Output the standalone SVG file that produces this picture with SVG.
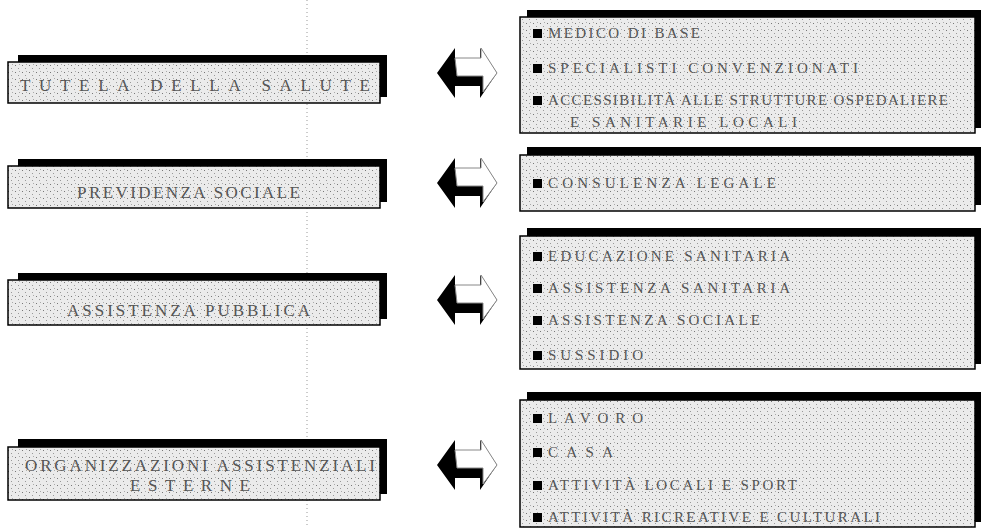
<svg xmlns="http://www.w3.org/2000/svg" width="981" height="528" viewBox="0 0 981 528">
<style>
.bar{fill:#000}
.body{fill:#e6e6e6;stroke:#000;stroke-width:1.5}
.lt{font-family:"Liberation Serif","Times New Roman",serif;font-size:17px;fill:#555}
.rt{font-family:"Liberation Serif","Times New Roman",serif;font-size:15px;fill:#555}
.bul{fill:#000}
.arrB{fill:#000}
.arrW{fill:#fff;stroke:#888;stroke-width:1}
</style>
<defs>
<pattern id="noise" width="7" height="7" patternUnits="userSpaceOnUse">
<rect width="7" height="7" fill="#ebebeb"/>
<rect x="1" y="2" width="1" height="1" fill="#777"/>
<rect x="4" y="5" width="1" height="1" fill="#999"/>
<rect x="5" y="1" width="1" height="1" fill="#aaa"/>
</pattern>
<g id="arrow">
<polygon class="arrB" points="0,25 18,0 18,12 43,12 43,0 60,25 43,50 43,38 18,38 18,50"/>
<polygon class="arrW" points="18,10 44,10 44,0 60,25 46,44 46,28 20,28"/>
</g>
</defs>
<line x1="307" y1="0" x2="307" y2="528" stroke="#999" stroke-width="1" stroke-dasharray="1,3"/>

<g id="L1">
<rect class="bar" x="18" y="55" width="369" height="7"/>
<rect class="bar" x="379" y="55" width="8" height="42"/>
<rect class="body" x="8" y="62" width="372" height="41" style="fill:url(#noise)"/>
<text class="lt" x="20" y="91" textLength="350" lengthAdjust="spacing">TUTELA DELLA SALUTE</text>
</g>
<g id="L2">
<rect class="bar" x="18" y="159" width="369" height="7"/>
<rect class="bar" x="379" y="159" width="8" height="43"/>
<rect class="body" x="8" y="166" width="372" height="42" style="fill:url(#noise)"/>
<text class="lt" x="77" y="198" textLength="223" lengthAdjust="spacing">PREVIDENZA SOCIALE</text>
</g>
<g id="L3">
<rect class="bar" x="18" y="273" width="369" height="7"/>
<rect class="bar" x="379" y="273" width="8" height="46"/>
<rect class="body" x="8" y="280" width="372" height="45" style="fill:url(#noise)"/>
<text class="lt" x="67" y="316" textLength="243" lengthAdjust="spacing">ASSISTENZA PUBBLICA</text>
</g>
<g id="L4">
<rect class="bar" x="18" y="439" width="369" height="8"/>
<rect class="bar" x="379" y="439" width="8" height="55"/>
<rect class="body" x="8" y="447" width="372" height="53" style="fill:url(#noise)"/>
<text class="lt" x="25" y="471" textLength="350" lengthAdjust="spacing">ORGANIZZAZIONI ASSISTENZIALI</text>
<text class="lt" x="130" y="491" textLength="120" lengthAdjust="spacing">ESTERNE</text>
</g>

<g id="R1">
<rect class="bar" x="527" y="10" width="454" height="7"/>
<rect class="bar" x="974" y="10" width="7" height="118"/>
<rect class="body" x="520" y="17" width="455" height="116" style="fill:url(#noise)"/>
<rect class="bul" x="533" y="29" width="9" height="9"/>
<text class="rt" x="548" y="38" textLength="152" lengthAdjust="spacing">MEDICO DI BASE</text>
<rect class="bul" x="533" y="64" width="9" height="9"/>
<text class="rt" x="548" y="73" textLength="310" lengthAdjust="spacing">SPECIALISTI CONVENZIONATI</text>
<rect class="bul" x="533" y="96" width="9" height="9"/>
<text class="rt" x="548" y="105" textLength="400" lengthAdjust="spacing">ACCESSIBILITÀ ALLE STRUTTURE OSPEDALIERE</text>
<text class="rt" x="570" y="127" textLength="227" lengthAdjust="spacing">E SANITARIE LOCALI</text>
</g>
<g id="R2">
<rect class="bar" x="527" y="147" width="454" height="8"/>
<rect class="bar" x="974" y="147" width="7" height="58"/>
<rect class="body" x="520" y="155" width="455" height="56" style="fill:url(#noise)"/>
<rect class="bul" x="533" y="179" width="9" height="9"/>
<text class="rt" x="548" y="188" textLength="228" lengthAdjust="spacing">CONSULENZA LEGALE</text>
</g>
<g id="R3">
<rect class="bar" x="527" y="228" width="454" height="8"/>
<rect class="bar" x="974" y="228" width="7" height="136"/>
<rect class="body" x="520" y="236" width="455" height="133" style="fill:url(#noise)"/>
<rect class="bul" x="533" y="252" width="9" height="9"/>
<text class="rt" x="548" y="261" textLength="242" lengthAdjust="spacing">EDUCAZIONE SANITARIA</text>
<rect class="bul" x="533" y="284" width="9" height="9"/>
<text class="rt" x="548" y="293" textLength="242" lengthAdjust="spacing">ASSISTENZA SANITARIA</text>
<rect class="bul" x="533" y="316" width="9" height="9"/>
<text class="rt" x="548" y="325" textLength="212" lengthAdjust="spacing">ASSISTENZA SOCIALE</text>
<rect class="bul" x="533" y="351" width="9" height="9"/>
<text class="rt" x="548" y="360" textLength="95" lengthAdjust="spacing">SUSSIDIO</text>
</g>
<g id="R4">
<rect class="bar" x="527" y="392" width="454" height="8"/>
<rect class="bar" x="974" y="392" width="7" height="130"/>
<rect class="body" x="520" y="400" width="455" height="127" style="fill:url(#noise)"/>
<rect class="bul" x="533" y="414" width="9" height="9"/>
<text class="rt" x="548" y="423" textLength="95" lengthAdjust="spacing">LAVORO</text>
<rect class="bul" x="533" y="448" width="9" height="9"/>
<text class="rt" x="548" y="457" textLength="65" lengthAdjust="spacing">CASA</text>
<rect class="bul" x="533" y="481" width="9" height="9"/>
<text class="rt" x="548" y="490" textLength="249" lengthAdjust="spacing">ATTIVITÀ LOCALI E SPORT</text>
<rect class="bul" x="533" y="513" width="9" height="9"/>
<text class="rt" x="548" y="522" textLength="332" lengthAdjust="spacing">ATTIVITÀ RICREATIVE E CULTURALI</text>
</g>

<g id="connectors">
<use href="#arrow" x="437" y="48"/>
<use href="#arrow" x="437" y="158"/>
<use href="#arrow" x="437" y="275"/>
<use href="#arrow" x="437" y="440"/>
</g>
</svg>
